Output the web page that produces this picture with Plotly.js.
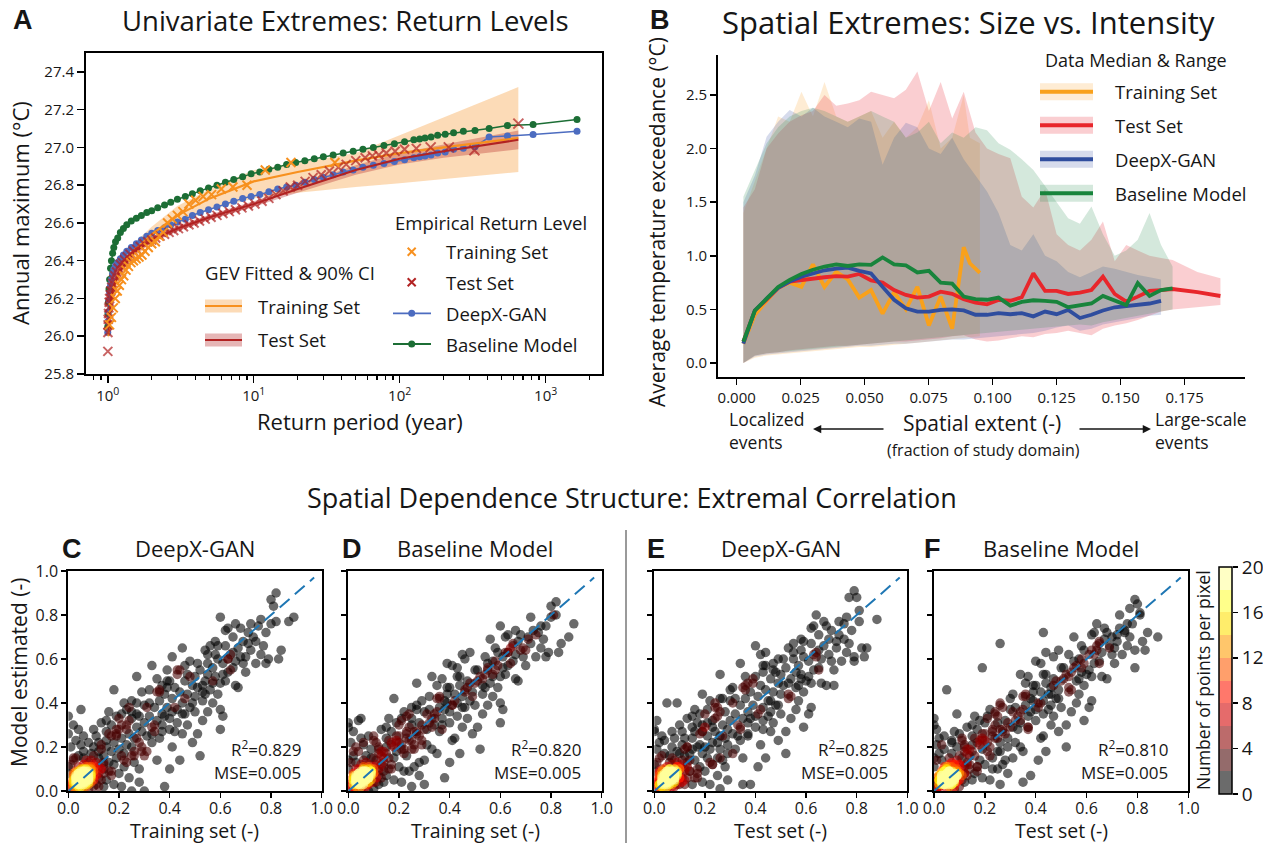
<!DOCTYPE html>
<html>
<head>
<meta charset="utf-8">
<script src="https://cdn.plot.ly/plotly-3.0.1.min.js"></script>
<style>
  html, body { margin: 0; padding: 0; background: #fff; overflow: hidden; width: 1263px; height: 849px; }
  #fig { width: 1263px; height: 849px; overflow: hidden; }
</style>
</head>
<body>
<div id="fig"></div>
<script>
// ---------------- Panel A: return levels ----------------
// GEV fits (return period in years, annual maximum in degC)
const gevT       = [1.01, 1.05, 1.1, 1.2, 1.5, 2, 3, 5, 10, 20, 50, 100, 200, 650];
const trainGev   = [26.00, 26.16, 26.25, 26.34, 26.45, 26.54, 26.64, 26.73, 26.82, 26.87, 26.93, 26.97, 27.00, 27.05];
const trainGevLo = [25.97, 26.12, 26.21, 26.30, 26.41, 26.50, 26.59, 26.67, 26.73, 26.76, 26.79, 26.81, 26.83, 26.87];
const trainGevHi = [26.03, 26.20, 26.29, 26.38, 26.49, 26.58, 26.69, 26.78, 26.88, 26.92, 26.97, 27.065, 27.16, 27.32];
const testGev    = [26.03, 26.20, 26.27, 26.34, 26.44, 26.51, 26.57, 26.63, 26.70, 26.78, 26.88, 26.94, 26.98, 27.04];
const testGevLo  = [26.01, 26.18, 26.25, 26.32, 26.425, 26.495, 26.555, 26.615, 26.685, 26.76, 26.855, 26.91, 26.945, 26.99];
const testGevHi  = [26.05, 26.22, 26.29, 26.36, 26.455, 26.525, 26.585, 26.645, 26.715, 26.80, 26.905, 26.97, 27.015, 27.09];

// empirical return levels, training set (35 years)
const trainEmpT = [1.029, 1.059, 1.091, 1.125, 1.161, 1.2, 1.241, 1.286, 1.333, 1.385, 1.44, 1.5, 1.565, 1.636, 1.714,
  1.8, 1.895, 2.0, 2.118, 2.25, 2.4, 2.571, 2.769, 3.0, 3.273, 3.6, 4.0, 4.5, 5.143, 6.0, 7.2, 9.0, 12.0, 18.0, 36.0];
const trainEmpV = [26.06, 26.10, 26.15, 26.20, 26.24, 26.27, 26.30, 26.32, 26.35, 26.37, 26.39, 26.40, 26.41, 26.42, 26.43,
  26.45, 26.47, 26.49, 26.50, 26.53, 26.55, 26.60, 26.62, 26.64, 26.66, 26.70, 26.72, 26.74, 26.75, 26.78, 26.79, 26.80, 26.88, 26.92, 26.92];

// empirical return levels, test set
const testEmpT = [1.0015, 1.003, 1.005, 1.008, 1.012, 1.017, 1.023, 1.03, 1.04, 1.05, 1.065, 1.08, 1.1, 1.12, 1.15, 1.18, 1.22, 1.26, 1.3, 1.36,
  1.42, 1.5, 1.58, 1.67, 1.77, 1.88, 2.0, 2.13, 2.28, 2.45, 2.63, 2.83, 3.05, 3.3, 3.6, 3.9, 4.25, 4.65, 5.1, 5.6,
  6.15, 6.8, 7.5, 8.3, 9.2, 10.2, 11.4, 12.7, 14.2, 15.9, 17.8, 20, 22.5, 25.5, 29, 33, 38, 43, 50, 58,
  65, 72, 81, 93, 108, 130, 163, 217, 325, 650];
const testEmpV = [25.92, 26.02, 26.06, 26.09, 26.12, 26.15, 26.18, 26.20, 26.22, 26.24, 26.26, 26.28, 26.30, 26.32, 26.34, 26.36, 26.38, 26.39, 26.405, 26.42,
  26.435, 26.45, 26.46, 26.475, 26.49, 26.50, 26.51, 26.52, 26.53, 26.54, 26.55, 26.56, 26.57, 26.58, 26.59, 26.60, 26.61, 26.62, 26.63, 26.64,
  26.65, 26.66, 26.67, 26.68, 26.69, 26.70, 26.715, 26.73, 26.75, 26.77, 26.79, 26.80, 26.82, 26.84, 26.855, 26.875, 26.895, 26.91, 26.93, 26.945,
  26.955, 26.96, 26.97, 26.98, 26.99, 26.995, 27.0, 27.0, 26.985, 27.126];

// empirical return levels of the generated samples
const modelT = [1.0, 1.005, 1.01, 1.02, 1.03, 1.045, 1.06, 1.08, 1.1, 1.13, 1.17, 1.22, 1.28, 1.35, 1.45, 1.57, 1.7, 1.85, 2.0, 2.2,
  2.45, 2.7, 3.0, 3.4, 3.8, 4.3, 4.9, 5.6, 6.4, 7.3, 8.4, 9.6, 11, 12.7, 14.6, 16.8, 19.4, 22.4, 26, 30,
  35, 41, 48, 56, 66, 78, 92, 108, 125, 137, 149, 164, 182, 205, 234, 273, 328, 410, 547, 820, 1640];
const deepxLevel = [26.02, 26.08, 26.13, 26.19, 26.23, 26.27, 26.30, 26.33, 26.355, 26.375, 26.39, 26.41, 26.43, 26.45, 26.47, 26.49, 26.51, 26.53, 26.545, 26.56,
  26.575, 26.59, 26.605, 26.62, 26.64, 26.655, 26.67, 26.685, 26.70, 26.715, 26.73, 26.74, 26.75, 26.765, 26.78, 26.79, 26.80, 26.815, 26.83, 26.84,
  26.855, 26.87, 26.88, 26.895, 26.905, 26.915, 26.925, 26.935, 26.945, 26.95, 26.955, 26.96, 26.97, 26.976, 26.99, 26.996, 27.003, 27.055, 27.06, 27.068, 27.086];
const baselineLevel = [26.05, 26.12, 26.18, 26.25, 26.30, 26.36, 26.40, 26.44, 26.47, 26.50, 26.52, 26.55, 26.57, 26.59, 26.61, 26.625, 26.64, 26.655, 26.665, 26.68,
  26.695, 26.71, 26.725, 26.74, 26.755, 26.77, 26.785, 26.80, 26.815, 26.83, 26.845, 26.86, 26.87, 26.885, 26.895, 26.91, 26.92, 26.93, 26.94, 26.95,
  26.96, 26.97, 26.98, 26.99, 27.0, 27.01, 27.02, 27.03, 27.04, 27.045, 27.05, 27.055, 27.065, 27.07, 27.077, 27.086, 27.09, 27.10, 27.116, 27.121, 27.148];

// ---------------- Panel B: size vs intensity ----------------
const extentGrid = [0.0026, 0.0071, 0.0117, 0.0162, 0.0207, 0.0253, 0.0298, 0.0343, 0.0389, 0.0434, 0.0479, 0.0525, 0.0570, 0.0615, 0.0661, 0.0706, 0.0751, 0.0797, 0.0842,
  0.0887, 0.0933, 0.0978, 0.1023, 0.1069, 0.1114, 0.1159, 0.1205, 0.1250, 0.1295, 0.1341, 0.1386, 0.1431, 0.1477, 0.1522, 0.1567, 0.1613, 0.1658, 0.1703];
const trainExtent = extentGrid.slice(0, 20).concat([0.0911, 0.0950]);
const trainMed = [0.18, 0.45, 0.58, 0.70, 0.75, 0.71, 0.92, 0.71, 0.85, 0.78, 0.61, 0.68, 0.46, 0.66, 0.50, 0.71, 0.35, 0.62, 0.32, 1.08, 0.93, 0.84];
const trainLo  = [0.00, 0.05, 0.07, 0.08, 0.09, 0.10, 0.11, 0.12, 0.13, 0.14, 0.15, 0.15, 0.16, 0.17, 0.18, 0.19, 0.20, 0.21, 0.22, 0.23, 0.24, 0.25];
const trainHi  = [1.40, 1.70, 2.00, 2.30, 2.25, 2.53, 2.30, 2.62, 2.30, 2.25, 2.30, 2.35, 2.10, 2.25, 2.10, 2.20, 2.45, 2.00, 2.10, 2.50, 2.10, 2.05];

const testExtent = extentGrid.concat([0.1800, 0.1890]);
const testMed = [0.20, 0.49, 0.59, 0.70, 0.76, 0.775, 0.79, 0.80, 0.81, 0.805, 0.83, 0.77, 0.75, 0.68, 0.635, 0.61, 0.62, 0.665, 0.645, 0.595,
  0.563, 0.547, 0.588, 0.581, 0.613, 0.836, 0.672, 0.672, 0.644, 0.656, 0.68, 0.805, 0.644, 0.572, 0.619, 0.672, 0.68, 0.69, 0.66, 0.625];
const testLo  = [0.00, 0.07, 0.09, 0.10, 0.12, 0.13, 0.14, 0.15, 0.16, 0.16, 0.17, 0.18, 0.19, 0.20, 0.20, 0.21, 0.22, 0.23, 0.25, 0.26,
  0.22, 0.20, 0.21, 0.23, 0.25, 0.24, 0.27, 0.28, 0.30, 0.28, 0.26, 0.32, 0.35, 0.37, 0.40, 0.44, 0.48, 0.50, 0.52, 0.54];
const testHi  = [1.45, 1.62, 2.00, 2.14, 2.25, 2.31, 2.35, 2.50, 2.40, 2.42, 2.45, 2.53, 2.50, 2.47, 2.55, 2.72, 2.35, 2.62, 2.28, 2.53,
  2.15, 2.00, 1.95, 1.91, 1.55, 1.45, 1.62, 1.20, 1.10, 1.05, 1.15, 1.32, 0.95, 1.10, 1.05, 1.00, 0.98, 0.96, 0.85, 0.79];

const deepxExtent = extentGrid.slice(0, 37);
const deepxMed = [0.18, 0.49, 0.60, 0.70, 0.76, 0.805, 0.835, 0.865, 0.88, 0.89, 0.86, 0.835, 0.71, 0.59, 0.51, 0.48, 0.48, 0.495, 0.50, 0.49,
  0.45, 0.45, 0.465, 0.455, 0.465, 0.435, 0.48, 0.455, 0.495, 0.42, 0.45, 0.49, 0.52, 0.53, 0.54, 0.555, 0.58];
const deepxLo  = [0.00, 0.06, 0.08, 0.09, 0.10, 0.11, 0.12, 0.13, 0.14, 0.15, 0.16, 0.16, 0.17, 0.18, 0.18, 0.19, 0.20, 0.21, 0.22, 0.22,
  0.23, 0.24, 0.25, 0.26, 0.27, 0.28, 0.30, 0.33, 0.35, 0.30, 0.32, 0.36, 0.38, 0.40, 0.42, 0.44, 0.45];
const deepxHi  = [1.50, 1.75, 2.11, 2.25, 2.36, 2.30, 2.38, 2.30, 2.25, 2.20, 2.28, 2.25, 1.85, 2.10, 2.24, 2.20, 2.00, 1.95, 2.10, 1.90,
  1.75, 1.60, 1.40, 1.10, 1.05, 1.20, 1.00, 0.95, 0.85, 0.80, 0.85, 0.90, 0.88, 0.85, 0.82, 0.80, 0.78];

const baseExtent = extentGrid;
const baseMed = [0.20, 0.49, 0.60, 0.71, 0.775, 0.83, 0.87, 0.90, 0.92, 0.905, 0.92, 0.915, 0.985, 0.92, 0.91, 0.845, 0.86, 0.75, 0.74, 0.62,
  0.595, 0.59, 0.61, 0.535, 0.57, 0.585, 0.58, 0.57, 0.52, 0.54, 0.555, 0.625, 0.58, 0.54, 0.745, 0.625, 0.68, 0.695];
const baseLo  = [0.00, 0.07, 0.09, 0.10, 0.11, 0.12, 0.13, 0.14, 0.15, 0.16, 0.17, 0.18, 0.19, 0.20, 0.21, 0.22, 0.23, 0.24, 0.25, 0.26,
  0.27, 0.28, 0.29, 0.30, 0.31, 0.32, 0.33, 0.34, 0.35, 0.36, 0.35, 0.38, 0.40, 0.42, 0.44, 0.46, 0.48, 0.50];
const baseHi  = [1.55, 1.80, 2.05, 2.20, 2.30, 2.35, 2.38, 2.35, 2.30, 2.25, 2.30, 2.35, 2.30, 2.25, 2.10, 2.15, 2.25, 2.05, 2.15, 2.10,
  2.20, 2.17, 2.05, 1.99, 1.90, 1.80, 1.65, 1.50, 1.35, 1.30, 1.46, 1.20, 1.00, 1.05, 1.15, 1.40, 1.10, 0.90];

// ---------------- Panels C-F: extremal correlation of pixel pairs ----------------
const trainCorr = [
  0.01,0.02,0.03,0.04,0.05,0.06,0.07,0.08,0.09,0.10,  0.02,0.03,0.04,0.05,0.06,0.07,0.08,0.09,0.10,0.11,
  0.01,0.02,0.03,0.04,0.05,0.06,0.07,0.08,0.09,0.11,  0.03,0.05,0.06,0.07,0.08,0.09,0.10,0.11,0.12,0.12,
  0.04,0.05,0.06,0.07,0.08,0.09,0.06,0.05,0.07,0.08,  0.00,0.00,0.01,0.02,0.03,0.04,0.06,0.07,0.10,0.12,
  0.13,0.13,0.14,0.11,0.10,0.02,0.05,0.08,0.12,0.14,  0.02,0.00,0.01,0.03,0.00,0.02,0.00,0.05,0.06,0.04,
  0.05,0.08,0.10,0.12,0.14,0.15,0.16,0.14,0.09,0.06,  0.14,0.15,0.16,0.17,0.18,0.19,0.20,0.21,0.22,0.23,
  0.24,0.25,0.26,0.27,0.28,0.29,0.30,0.15,0.17,0.13,  0.19,0.21,0.23,0.18,0.25,0.27,0.29,0.27,0.20,0.22,
  0.24,0.26,0.28,0.30,0.18,0.21,0.25,0.28,0.30,0.17,  0.20,0.24,0.26,0.29,0.16,0.22,0.19,0.23,0.25,0.27,
  0.31,0.32,0.33,0.34,0.35,0.36,0.37,0.38,0.39,0.40,  0.41,0.42,0.43,0.44,0.45,0.46,0.47,0.48,0.49,0.50,
  0.32,0.33,0.35,0.37,0.39,0.41,0.43,0.45,0.46,0.48,  0.31,0.33,0.35,0.36,0.38,0.40,0.41,0.42,0.44,0.45,
  0.47,0.49,0.34,0.37,0.40,0.43,0.46,0.50,0.36,0.39,  0.51,0.52,0.52,0.53,0.54,0.55,0.56,0.57,0.58,0.59,
  0.60,0.61,0.62,0.63,0.64,0.65,0.66,0.67,0.68,0.69,  0.70,0.53,0.55,0.57,0.60,0.61,0.60,0.58,0.56,0.60,
  0.62,0.64,0.66,0.67,0.51,0.54,0.59,0.63,0.66,0.71,  0.72,0.73,0.74,0.75,0.76,0.77,0.78,0.79,0.80,0.81,
  0.82,0.82,0.83,0.84,0.87,0.80,0.78,0.74,0.72,0.70,  0.76,0.89,0.65,0.68,0.69,0.71,0.63,0.55,0.53,0.57,
  0.02,0.03,0.04,0.05,0.06,0.07,0.08,0.09,0.03,0.04,  0.05,0.06,0.07,0.08,0.04,0.05,0.06,0.07,0.05,0.06,
  0.01,0.02,0.03,0.04,0.05,0.06,0.07,0.08,0.09,0.10,  0.02,0.03,0.04,0.05,0.06,0.07,0.08,0.03,0.04,0.05,
  0.06,0.07,0.05,0.06,0.04,0.08,0.09,0.10,0.02,0.07,  0.03,0.04,0.05,0.06,0.07,0.08,0.06,0.05,0.04,0.07,
  0.12,0.14,0.16,0.18,0.20,0.22,0.24,0.26,0.28,0.30,  0.13,0.15,0.17,0.19,0.21,0.23,0.25,0.27,0.29,0.31,
  0.33,0.35,0.37,0.39,0.41,0.43,0.45,0.47,0.49,0.51,  0.32,0.34,0.36,0.38,0.40,0.42,0.44,0.46,0.48,0.50,
  0.53,0.55,0.57,0.59,0.61,0.63,0.65,0.54,0.58,0.62,  0.11,0.13,0.15,0.17,0.19,0.21,0.23,0.25,0.10,0.12];
const deepxTrainCorr = [
  0.01,0.03,0.02,0.04,0.05,0.04,0.06,0.08,0.07,0.09,  0.05,0.06,0.07,0.08,0.07,0.09,0.10,0.11,0.12,0.10,
  0.04,0.07,0.09,0.11,0.10,0.12,0.11,0.13,0.14,0.13,  0.01,0.02,0.02,0.03,0.04,0.04,0.05,0.07,0.08,0.11,
  0.03,0.04,0.06,0.05,0.06,0.09,0.09,0.06,0.07,0.05,  0.02,0.08,0.12,0.14,0.15,0.16,0.15,0.14,0.16,0.15,
  0.10,0.05,0.08,0.03,0.02,0.00,0.00,0.01,0.02,0.13,  0.15,0.11,0.20,0.23,0.26,0.30,0.34,0.21,0.25,0.28,
  0.37,0.22,0.20,0.18,0.02,0.05,0.09,0.12,0.17,0.18,  0.16,0.20,0.13,0.18,0.22,0.15,0.19,0.24,0.17,0.21,
  0.26,0.20,0.24,0.29,0.22,0.27,0.31,0.27,0.30,0.31,  0.34,0.30,0.37,0.46,0.41,0.35,0.45,0.52,0.08,0.11,
  0.06,0.13,0.10,0.16,0.03,0.02,0.00,0.04,0.00,0.25,  0.28,0.32,0.18,0.20,0.36,0.40,0.26,0.28,0.33,0.24,
  0.25,0.34,0.29,0.38,0.32,0.41,0.35,0.44,0.38,0.33,  0.42,0.47,0.37,0.45,0.40,0.50,0.44,0.38,0.48,0.43,
  0.46,0.57,0.51,0.48,0.55,0.61,0.53,0.65,0.57,0.59,  0.18,0.22,0.14,0.24,0.02,0.10,0.20,0.27,0.14,0.26,
  0.30,0.22,0.27,0.30,0.28,0.31,0.35,0.52,0.45,0.50,  0.47,0.16,0.55,0.41,0.50,0.62,0.46,0.56,0.52,0.60,
  0.49,0.58,0.66,0.54,0.62,0.70,0.59,0.65,0.74,0.68,  0.61,0.32,0.36,0.40,0.28,0.34,0.37,0.68,0.66,0.79,
  0.73,0.55,0.48,0.47,0.26,0.64,0.44,0.74,0.76,0.72,  0.64,0.70,0.58,0.75,0.78,0.66,0.72,0.60,0.87,0.84,
  0.90,0.77,0.60,0.64,0.77,0.76,0.58,0.68,0.76,0.54,  0.62,0.79,0.63,0.61,0.58,0.67,0.60,0.53,0.48,0.50,
  0.02,0.04,0.05,0.06,0.05,0.07,0.09,0.08,0.03,0.06,  0.07,0.08,0.05,0.07,0.04,0.05,0.06,0.08,0.09,0.03,
  0.03,0.04,0.06,0.08,0.03,0.10,0.04,0.06,0.10,0.07,  0.06,0.05,0.09,0.04,0.06,0.10,0.05,0.08,0.05,0.07,
  0.04,0.06,0.05,0.07,0.02,0.03,0.06,0.11,0.08,0.02,  0.07,0.03,0.10,0.09,0.08,0.11,0.05,0.04,0.08,0.05,
  0.22,0.10,0.26,0.12,0.33,0.14,0.38,0.16,0.34,0.39,  0.19,0.23,0.09,0.28,0.16,0.30,0.16,0.40,0.18,0.38,
  0.26,0.45,0.27,0.47,0.36,0.55,0.35,0.53,0.40,0.58,  0.40,0.30,0.46,0.34,0.50,0.38,0.55,0.42,0.52,0.36,
  0.45,0.58,0.49,0.66,0.53,0.60,0.56,0.44,0.62,0.50,  0.25,0.21,0.32,0.07,0.25,0.35,0.13,0.36,0.28,0.06];
const baseTrainCorr = [
  0.02,0.02,0.04,0.03,0.06,0.05,0.05,0.07,0.09,0.08,  0.06,0.05,0.08,0.07,0.09,0.08,0.11,0.10,0.11,0.12,
  0.05,0.08,0.10,0.10,0.12,0.11,0.13,0.12,0.15,0.14,  0.02,0.01,0.03,0.02,0.03,0.05,0.04,0.06,0.07,0.10,
  0.04,0.03,0.05,0.06,0.07,0.08,0.10,0.07,0.08,0.06,  0.03,0.10,0.13,0.16,0.13,0.18,0.14,0.16,0.15,0.17,
  0.12,0.06,0.09,0.04,0.01,0.01,0.02,0.00,0.03,0.15,  0.18,0.14,0.22,0.20,0.29,0.27,0.31,0.24,0.22,0.32,
  0.33,0.25,0.23,0.20,0.04,0.07,0.10,0.11,0.19,0.21,  0.18,0.17,0.15,0.21,0.20,0.18,0.22,0.21,0.19,0.24,
  0.23,0.23,0.27,0.26,0.25,0.30,0.28,0.24,0.27,0.28,  0.31,0.33,0.34,0.42,0.38,0.39,0.41,0.49,0.11,0.09,
  0.09,0.11,0.13,0.14,0.05,0.04,0.02,0.07,0.03,0.22,  0.25,0.29,0.21,0.23,0.33,0.36,0.23,0.26,0.30,0.27,
  0.28,0.31,0.33,0.35,0.36,0.38,0.33,0.41,0.40,0.36,  0.39,0.44,0.40,0.48,0.43,0.46,0.47,0.41,0.45,0.49,
  0.43,0.52,0.48,0.51,0.58,0.57,0.56,0.62,0.60,0.63,  0.21,0.19,0.17,0.27,0.06,0.13,0.23,0.24,0.17,0.29,
  0.33,0.26,0.30,0.28,0.31,0.34,0.38,0.55,0.42,0.47,  0.50,0.19,0.52,0.44,0.53,0.58,0.49,0.59,0.55,0.57,
  0.52,0.61,0.63,0.57,0.65,0.67,0.62,0.68,0.71,0.65,  0.64,0.35,0.39,0.43,0.31,0.37,0.40,0.65,0.69,0.75,
  0.70,0.58,0.51,0.50,0.29,0.61,0.47,0.71,0.73,0.69,  0.67,0.73,0.61,0.72,0.75,0.69,0.75,0.63,0.84,0.80,
  0.86,0.80,0.63,0.67,0.70,0.79,0.61,0.71,0.79,0.57,  0.65,0.76,0.66,0.64,0.61,0.70,0.63,0.56,0.51,0.53,
  0.03,0.03,0.06,0.05,0.06,0.06,0.08,0.09,0.04,0.05,  0.06,0.09,0.06,0.06,0.05,0.04,0.07,0.07,0.08,0.04,
  0.02,0.05,0.05,0.07,0.04,0.09,0.05,0.07,0.09,0.08,  0.05,0.06,0.08,0.05,0.07,0.09,0.06,0.07,0.06,0.06,
  0.05,0.07,0.04,0.08,0.03,0.04,0.07,0.10,0.07,0.03,  0.06,0.04,0.09,0.08,0.09,0.10,0.06,0.05,0.07,0.06,
  0.19,0.13,0.23,0.15,0.30,0.17,0.35,0.19,0.31,0.36,  0.16,0.20,0.12,0.25,0.19,0.27,0.19,0.37,0.21,0.35,
  0.29,0.42,0.30,0.44,0.39,0.52,0.38,0.50,0.43,0.55,  0.37,0.33,0.43,0.37,0.47,0.41,0.52,0.45,0.49,0.39,
  0.48,0.55,0.52,0.63,0.56,0.63,0.59,0.47,0.59,0.53,  0.22,0.18,0.29,0.10,0.22,0.32,0.16,0.33,0.25,0.09];

const testCorr = [
  0.01,0.02,0.03,0.04,0.05,0.06,0.07,0.08,0.09,0.10,  0.02,0.03,0.04,0.05,0.06,0.07,0.08,0.09,0.10,0.11,
  0.01,0.02,0.03,0.04,0.05,0.06,0.07,0.08,0.09,0.11,  0.03,0.05,0.06,0.07,0.08,0.09,0.10,0.11,0.12,0.12,
  0.04,0.05,0.06,0.07,0.08,0.09,0.06,0.05,0.07,0.08,  0.00,0.00,0.01,0.02,0.03,0.04,0.06,0.07,0.10,0.12,
  0.13,0.13,0.14,0.11,0.10,0.02,0.05,0.08,0.12,0.14,  0.01,0.00,0.02,0.03,0.00,0.01,0.00,0.04,0.07,0.05,
  0.09,0.08,0.11,0.12,0.15,0.16,0.17,0.13,0.09,0.07,  0.14,0.15,0.16,0.17,0.18,0.19,0.20,0.21,0.22,0.23,
  0.24,0.25,0.26,0.27,0.28,0.29,0.30,0.15,0.17,0.13,  0.18,0.21,0.24,0.19,0.26,0.26,0.30,0.26,0.20,0.23,
  0.25,0.27,0.28,0.31,0.19,0.22,0.26,0.29,0.35,0.18,  0.20,0.24,0.26,0.29,0.16,0.22,0.19,0.23,0.25,0.27,
  0.31,0.32,0.33,0.34,0.35,0.36,0.37,0.38,0.39,0.40,  0.41,0.42,0.43,0.44,0.45,0.46,0.47,0.48,0.49,0.50,
  0.31,0.34,0.36,0.37,0.40,0.42,0.43,0.44,0.47,0.49,  0.32,0.34,0.35,0.37,0.38,0.41,0.42,0.43,0.44,0.46,
  0.47,0.49,0.34,0.37,0.40,0.43,0.46,0.50,0.36,0.39,  0.51,0.52,0.52,0.53,0.54,0.55,0.56,0.57,0.58,0.59,
  0.60,0.61,0.62,0.63,0.64,0.65,0.66,0.67,0.68,0.69,  0.71,0.54,0.56,0.57,0.59,0.61,0.62,0.58,0.55,0.64,
  0.62,0.65,0.66,0.68,0.52,0.53,0.59,0.63,0.67,0.70,  0.72,0.73,0.74,0.75,0.76,0.77,0.78,0.79,0.80,0.81,
  0.79,0.77,0.83,0.82,0.88,0.81,0.79,0.75,0.73,0.71,  0.76,0.84,0.65,0.69,0.70,0.72,0.64,0.56,0.53,0.58,
  0.02,0.03,0.04,0.05,0.06,0.07,0.08,0.09,0.03,0.04,  0.05,0.06,0.07,0.08,0.04,0.05,0.06,0.07,0.05,0.06,
  0.01,0.02,0.03,0.04,0.05,0.06,0.07,0.08,0.09,0.10,  0.02,0.03,0.04,0.05,0.06,0.07,0.08,0.03,0.04,0.05,
  0.06,0.07,0.05,0.06,0.04,0.08,0.09,0.10,0.02,0.07,  0.03,0.04,0.05,0.06,0.07,0.08,0.06,0.05,0.04,0.07,
  0.12,0.14,0.16,0.18,0.20,0.22,0.24,0.26,0.28,0.30,  0.13,0.15,0.17,0.19,0.21,0.23,0.25,0.27,0.29,0.31,
  0.33,0.35,0.37,0.39,0.41,0.43,0.45,0.47,0.49,0.51,  0.32,0.34,0.36,0.38,0.40,0.42,0.44,0.46,0.48,0.50,
  0.53,0.55,0.57,0.59,0.61,0.63,0.65,0.54,0.58,0.62,  0.11,0.13,0.15,0.17,0.19,0.21,0.23,0.25,0.10,0.12];
const deepxTestCorr = [
  0.02,0.02,0.03,0.05,0.04,0.06,0.07,0.07,0.08,0.10,  0.06,0.05,0.07,0.09,0.08,0.08,0.09,0.11,0.11,0.12,
  0.05,0.08,0.10,0.10,0.11,0.13,0.12,0.14,0.13,0.14,  0.02,0.02,0.03,0.02,0.05,0.03,0.06,0.06,0.09,0.10,
  0.04,0.05,0.05,0.06,0.07,0.08,0.10,0.07,0.06,0.06,  0.03,0.09,0.13,0.15,0.16,0.17,0.16,0.15,0.17,0.16,
  0.11,0.06,0.09,0.04,0.03,0.01,0.01,0.02,0.03,0.14,  0.19,0.12,0.22,0.25,0.28,0.32,0.27,0.23,0.27,0.40,
  0.40,0.24,0.21,0.19,0.03,0.06,0.10,0.13,0.18,0.20,  0.17,0.19,0.14,0.20,0.21,0.17,0.20,0.25,0.19,0.22,
  0.27,0.22,0.25,0.30,0.24,0.28,0.32,0.29,0.31,0.33,  0.35,0.31,0.38,0.44,0.42,0.36,0.46,0.53,0.09,0.12,
  0.07,0.14,0.11,0.17,0.04,0.03,0.01,0.05,0.03,0.26,  0.29,0.33,0.19,0.21,0.37,0.41,0.27,0.29,0.34,0.25,
  0.26,0.35,0.30,0.39,0.33,0.42,0.36,0.45,0.39,0.34,  0.43,0.48,0.38,0.46,0.41,0.51,0.45,0.39,0.49,0.44,
  0.47,0.58,0.52,0.49,0.66,0.62,0.54,0.63,0.58,0.60,  0.19,0.23,0.15,0.25,0.03,0.11,0.21,0.28,0.15,0.27,
  0.31,0.23,0.28,0.31,0.29,0.32,0.36,0.53,0.46,0.51,  0.48,0.17,0.56,0.42,0.51,0.63,0.47,0.57,0.53,0.61,
  0.50,0.59,0.67,0.55,0.63,0.71,0.60,0.66,0.75,0.69,  0.48,0.33,0.37,0.41,0.29,0.35,0.38,0.69,0.67,0.80,
  0.74,0.56,0.49,0.48,0.27,0.65,0.45,0.75,0.77,0.73,  0.65,0.71,0.59,0.76,0.79,0.67,0.73,0.61,0.88,0.82,
  0.91,0.88,0.61,0.65,0.78,0.77,0.59,0.69,0.77,0.55,  0.63,0.65,0.64,0.62,0.59,0.68,0.61,0.54,0.49,0.51,
  0.03,0.04,0.04,0.07,0.06,0.06,0.08,0.09,0.02,0.05,  0.08,0.07,0.06,0.08,0.05,0.04,0.05,0.09,0.08,0.04,
  0.04,0.03,0.07,0.07,0.04,0.09,0.05,0.07,0.11,0.06,  0.07,0.04,0.08,0.05,0.07,0.09,0.06,0.09,0.04,0.08,
  0.05,0.05,0.06,0.08,0.03,0.04,0.07,0.10,0.09,0.03,  0.06,0.04,0.09,0.10,0.07,0.10,0.06,0.03,0.07,0.06,
  0.24,0.09,0.27,0.11,0.35,0.13,0.40,0.15,0.36,0.41,  0.20,0.24,0.08,0.30,0.15,0.32,0.15,0.42,0.17,0.40,
  0.25,0.47,0.26,0.49,0.35,0.57,0.34,0.55,0.39,0.60,  0.42,0.29,0.48,0.33,0.52,0.37,0.57,0.41,0.54,0.35,
  0.44,0.60,0.48,0.68,0.52,0.62,0.55,0.43,0.64,0.49,  0.27,0.20,0.34,0.06,0.27,0.37,0.12,0.38,0.30,0.05];
const baseTestCorr = [
  0.01,0.03,0.04,0.03,0.06,0.05,0.06,0.08,0.08,0.09,  0.05,0.07,0.06,0.08,0.09,0.07,0.10,0.10,0.12,0.11,
  0.06,0.07,0.09,0.11,0.10,0.12,0.13,0.12,0.14,0.15,  0.03,0.01,0.02,0.03,0.04,0.04,0.05,0.07,0.08,0.11,
  0.05,0.04,0.06,0.05,0.06,0.07,0.09,0.06,0.07,0.05,  0.04,0.11,0.14,0.17,0.14,0.19,0.15,0.17,0.16,0.18,
  0.13,0.07,0.10,0.05,0.02,0.02,0.03,0.01,0.04,0.16,  0.21,0.15,0.24,0.21,0.30,0.28,0.33,0.25,0.23,0.46,
  0.35,0.27,0.24,0.21,0.05,0.08,0.11,0.12,0.20,0.22,  0.19,0.18,0.16,0.22,0.21,0.19,0.23,0.22,0.20,0.25,
  0.24,0.24,0.28,0.27,0.26,0.31,0.29,0.25,0.28,0.29,  0.32,0.34,0.35,0.56,0.39,0.40,0.42,0.67,0.12,0.10,
  0.10,0.12,0.14,0.15,0.06,0.05,0.03,0.08,0.04,0.23,  0.26,0.30,0.22,0.24,0.34,0.37,0.24,0.27,0.31,0.28,
  0.29,0.32,0.34,0.36,0.37,0.39,0.34,0.42,0.41,0.37,  0.40,0.45,0.41,0.49,0.44,0.47,0.48,0.42,0.46,0.50,
  0.44,0.53,0.49,0.52,0.59,0.58,0.72,0.63,0.61,0.64,  0.22,0.20,0.18,0.28,0.07,0.14,0.24,0.25,0.18,0.30,
  0.34,0.27,0.31,0.29,0.32,0.35,0.39,0.56,0.43,0.48,  0.51,0.20,0.53,0.45,0.54,0.59,0.50,0.60,0.56,0.58,
  0.53,0.62,0.64,0.58,0.66,0.68,0.63,0.69,0.72,0.66,  0.65,0.36,0.40,0.44,0.32,0.38,0.41,0.66,0.70,0.76,
  0.71,0.59,0.52,0.51,0.30,0.62,0.48,0.72,0.74,0.70,  0.68,0.74,0.62,0.73,0.76,0.70,0.76,0.64,0.85,0.81,
  0.87,0.83,0.64,0.68,0.70,0.80,0.56,0.72,0.80,0.58,  0.66,0.72,0.67,0.65,0.62,0.71,0.64,0.57,0.52,0.54,
  0.02,0.05,0.06,0.05,0.04,0.08,0.08,0.07,0.04,0.07,  0.06,0.09,0.06,0.07,0.03,0.06,0.07,0.07,0.10,0.04,
  0.02,0.05,0.05,0.09,0.04,0.11,0.05,0.05,0.09,0.08,  0.05,0.06,0.10,0.05,0.05,0.11,0.06,0.07,0.06,0.08,
  0.03,0.07,0.04,0.06,0.03,0.02,0.07,0.12,0.07,0.03,  0.08,0.04,0.11,0.08,0.09,0.12,0.04,0.05,0.09,0.04,
  0.20,0.12,0.24,0.14,0.31,0.16,0.36,0.18,0.32,0.37,  0.17,0.21,0.11,0.26,0.18,0.28,0.18,0.38,0.20,0.36,
  0.28,0.43,0.29,0.45,0.38,0.53,0.37,0.51,0.42,0.56,  0.38,0.32,0.44,0.36,0.48,0.40,0.53,0.44,0.50,0.38,
  0.47,0.56,0.51,0.64,0.55,0.62,0.58,0.46,0.60,0.52,  0.23,0.19,0.30,0.09,0.23,0.33,0.15,0.34,0.26,0.08];

const fitScores = [
  {r2: '0.829', mse: '0.005'},
  {r2: '0.820', mse: '0.005'},
  {r2: '0.825', mse: '0.005'},
  {r2: '0.810', mse: '0.005'}];
const identityLine = [0, 0.97];
const densityTicks = [0, 4, 8, 12, 16, 20];
const densityBins = [1, 3, 5, 7, 9, 11, 13, 15, 17, 19];

// ---------------- drawing ----------------
const FONT = '"Open Sans", "DejaVu Sans", sans-serif';
const INK = '#161616';
const W = 1263, H = 849;
const px = v => v / W;
const py = v => 1 - v / H;
const hdom = (a, b) => [a / W, b / W];
const vdom = (top, bottom) => [1 - bottom / H, 1 - top / H];

const ORANGE = '#f7901e', RED_X = '#b22222', BLUE_M = '#4c6cc0', GREEN_M = '#1c6e35';
const TRAIN_BAND = 'rgba(247,144,30,0.32)', TEST_BAND = 'rgba(178,34,34,0.33)';
const B_COLORS = {
  train: {line: '#f9a11b', band: 'rgba(250,170,60,0.22)'},
  test:  {line: '#e8262b', band: 'rgba(235,60,70,0.25)'},
  deepx: {line: '#2f4d9e', band: 'rgba(70,90,170,0.22)'},
  base:  {line: '#18843c', band: 'rgba(40,140,80,0.20)'}};

const traces = [];
const band = (xs, lo, hi, color, xa, ya) => ({
  type: 'scatter', mode: 'lines', x: xs.concat(xs.slice().reverse()), y: hi.concat(lo.slice().reverse()),
  fill: 'toself', fillcolor: color, line: {width: 0}, xaxis: xa, yaxis: ya, hoverinfo: 'skip'});

// Panel A
traces.push(band(gevT, trainGevLo, trainGevHi, TRAIN_BAND, 'x', 'y'));
traces.push(band(gevT, testGevLo, testGevHi, TEST_BAND, 'x', 'y'));
traces.push({type: 'scatter', mode: 'lines+markers', x: modelT, y: baselineLevel, xaxis: 'x', yaxis: 'y',
  line: {color: GREEN_M, width: 1.5}, marker: {color: GREEN_M, size: 7}});
traces.push({type: 'scatter', mode: 'lines+markers', x: modelT, y: deepxLevel, xaxis: 'x', yaxis: 'y',
  line: {color: BLUE_M, width: 1.5}, marker: {color: BLUE_M, size: 7}});
traces.push({type: 'scatter', mode: 'lines', x: gevT, y: trainGev, xaxis: 'x', yaxis: 'y', line: {color: ORANGE, width: 2.2}});
traces.push({type: 'scatter', mode: 'lines', x: gevT, y: testGev, xaxis: 'x', yaxis: 'y', line: {color: RED_X, width: 2}});
traces.push({type: 'scatter', mode: 'markers', x: testEmpT, y: testEmpV, xaxis: 'x', yaxis: 'y',
  marker: {symbol: 'x-thin', size: testEmpT.map(t => t > 150 ? 10 : 9), color: RED_X, line: {color: RED_X, width: 2}}});
traces.push({type: 'scatter', mode: 'markers', x: trainEmpT, y: trainEmpV, xaxis: 'x', yaxis: 'y',
  marker: {symbol: 'x-thin', size: 9, color: ORANGE, line: {color: ORANGE, width: 2}}});

// Panel B
const bSeries = [
  {x: trainExtent, med: trainMed, lo: trainLo, hi: trainHi, c: B_COLORS.train},
  {x: testExtent, med: testMed, lo: testLo, hi: testHi, c: B_COLORS.test},
  {x: deepxExtent, med: deepxMed, lo: deepxLo, hi: deepxHi, c: B_COLORS.deepx},
  {x: baseExtent, med: baseMed, lo: baseLo, hi: baseHi, c: B_COLORS.base}];
bSeries.forEach(s => traces.push(band(s.x, s.lo, s.hi, s.c.band, 'x2', 'y2')));
bSeries.forEach(s => traces.push({type: 'scatter', mode: 'lines', x: s.x, y: s.med, xaxis: 'x2', yaxis: 'y2',
  line: {color: s.c.line, width: 3.8}}));

// Panels C-F: points coloured by the number of neighbours around each point
const hotSteps = ['0,0,0', '70,0,0', '140,0,0', '210,0,0', '255,23,0', '255,90,0', '255,157,0', '255,224,0', '255,255,54', '255,255,155'];
const densityScale = [];
hotSteps.forEach((c, i) => {
  densityScale.push([i / 10, `rgba(${c},0.58)`]);
  densityScale.push([(i + 1) / 10, `rgba(${c},0.58)`]);
});
function neighbourCounts(xs, ys, sx, sy, r) {
  return xs.map((x, i) => {
    let n = 0;
    for (let j = 0; j < xs.length; j++) {
      if (i === j) continue;
      const dx = (x - xs[j]) * sx, dy = (ys[i] - ys[j]) * sy;
      if (dx * dx + dy * dy < r * r) n++;
    }
    return Math.min(n, 20);
  });
}
function densityScatter(xs, ys, xa, ya) {
  const counts = neighbourCounts(xs, ys, 253, 220, 5.5);
  const order = counts.map((c, i) => i).sort((a, b) => counts[a] - counts[b]);
  return {type: 'scatter', mode: 'markers', xaxis: xa, yaxis: ya,
    x: order.map(i => xs[i]), y: order.map(i => ys[i]),
    marker: {size: 9.5, color: order.map(i => counts[i]), colorscale: densityScale, cmin: 0, cmax: 20,
      line: {width: 0}, showscale: false}};
}
const panels = [
  {xs: trainCorr, ys: deepxTrainCorr, xa: 'x3', ya: 'y3'},
  {xs: trainCorr, ys: baseTrainCorr, xa: 'x4', ya: 'y4'},
  {xs: testCorr, ys: deepxTestCorr, xa: 'x5', ya: 'y5'},
  {xs: testCorr, ys: baseTestCorr, xa: 'x6', ya: 'y6'}];
panels.forEach(p => {
  traces.push(densityScatter(p.xs, p.ys, p.xa, p.ya));
  traces.push({type: 'scatter', mode: 'lines', x: identityLine, y: identityLine, xaxis: p.xa, yaxis: p.ya,
    line: {color: '#1f77b4', width: 2, dash: '13px,7px'}});
});

// colour bar for the point density, drawn as a one-column heatmap on its own axis
traces.push({type: 'heatmap', xaxis: 'x8', yaxis: 'y8', x: [0.5], y: densityBins, z: densityBins.map(v => [v]),
  colorscale: densityScale, zmin: 0, zmax: 20, showscale: false, hoverinfo: 'skip'});

// legend markers on a full-page pixel grid
const legendMarks = [
  {y: 251.7, sym: 'x-thin', c: ORANGE},
  {y: 282.3, sym: 'x-thin', c: RED_X},
  {y: 313.3, sym: 'circle', c: BLUE_M},
  {y: 344.0, sym: 'circle', c: GREEN_M}];
legendMarks.forEach(m => traces.push({type: 'scatter', mode: 'markers', x: [411.7], y: [m.y], xaxis: 'x7', yaxis: 'y7',
  cliponaxis: false, marker: {symbol: m.sym, size: m.sym === 'circle' ? 7 : 8, color: m.c, line: {color: m.c, width: m.sym === 'circle' ? 0 : 2}}}));

// ---------------- layout ----------------
const tickFont = s => ({family: FONT, size: s, color: INK});
const axBase = {showgrid: false, zeroline: false, showline: true, linecolor: '#000', linewidth: 2,
  ticks: 'outside', ticklen: 6, tickwidth: 1.5, tickcolor: '#000', fixedrange: true};

const layout = {
  width: W, height: H, autosize: false, margin: {l: 0, r: 0, t: 0, b: 0, pad: 0},
  paper_bgcolor: '#fff', plot_bgcolor: 'rgba(0,0,0,0)', showlegend: false, font: {family: FONT, color: INK},
  xaxis: Object.assign({}, axBase, {domain: hdom(86, 602), anchor: 'y', type: 'log', range: [-0.149, 3.386], mirror: true,
    tickmode: 'array', tickvals: [1, 10, 100, 1000], ticktext: ['10<sup>0</sup>', '10<sup>1</sup>', '10<sup>2</sup>', '10<sup>3</sup>'],
    tickfont: tickFont(15), ticklen: 7,
    minor: {tickmode: 'array', tickvals: [0.8, 0.9, 2, 3, 4, 5, 6, 7, 8, 9, 20, 30, 40, 50, 60, 70, 80, 90, 200, 300, 400, 500, 600, 700, 800, 900, 2000],
      ticks: 'outside', ticklen: 4, tickwidth: 1.2, tickcolor: '#000', showgrid: false}}),
  yaxis: Object.assign({}, axBase, {domain: vdom(53, 374), anchor: 'x', range: [25.8, 27.5], mirror: true,
    tickmode: 'array', tickvals: [25.8, 26.0, 26.2, 26.4, 26.6, 26.8, 27.0, 27.2, 27.4], tickformat: '.1f', tickfont: tickFont(15), ticklen: 7}),
  xaxis2: Object.assign({}, axBase, {domain: hdom(718, 1245), anchor: 'y2', range: [-0.0073, 0.1986],
    tickmode: 'array', tickvals: [0, 0.025, 0.05, 0.075, 0.1, 0.125, 0.15, 0.175], tickformat: '.3f', tickfont: tickFont(15)}),
  yaxis2: Object.assign({}, axBase, {domain: vdom(55, 377), anchor: 'x2', range: [-0.1306, 2.873],
    tickmode: 'array', tickvals: [0, 0.5, 1, 1.5, 2, 2.5], tickformat: '.1f', tickfont: tickFont(15)}),
  xaxis7: {domain: [0, 1], anchor: 'y7', range: [0, W], visible: false, fixedrange: true},
  yaxis7: {domain: [0, 1], anchor: 'x7', range: [H, 0], visible: false, fixedrange: true},
  xaxis8: {domain: hdom(1219, 1232), anchor: 'y8', range: [0, 1], visible: false, fixedrange: true},
  yaxis8: {domain: vdom(567, 794), anchor: 'x8', range: [0, 20], side: 'right', showgrid: false, zeroline: false,
    showline: false, ticks: 'outside', ticklen: 5, tickwidth: 1.5, tickcolor: '#000', fixedrange: true,
    tickmode: 'array', tickvals: densityTicks, tickfont: tickFont(19)},
};
const bottomX = [[68.3, 321.7], [348.3, 601.7], [654.3, 907.3], [934, 1188.3]];
bottomX.forEach((b, k) => {
  const n = k + 3;
  layout['xaxis' + n] = Object.assign({}, axBase, {domain: hdom(b[0], b[1]), anchor: 'y' + n, range: [0, 1], mirror: true,
    tickmode: 'array', tickvals: [0, 0.2, 0.4, 0.6, 0.8, 1], tickformat: '.1f', tickfont: tickFont(16), ticklen: 5,
    ticklabelstandoff: -3});
  layout['yaxis' + n] = Object.assign({}, axBase, {domain: vdom(571, 791), anchor: 'x' + n, range: [0, 1], mirror: true,
    tickmode: 'array', tickvals: [0, 0.2, 0.4, 0.6, 0.8, 1], tickformat: '.1f', tickfont: tickFont(16), ticklen: 5,
    showticklabels: k === 0});
});

// text
const note = (x, y, text, size, extra) => Object.assign({xref: 'paper', yref: 'paper', x: px(x), y: py(y), text: text,
  showarrow: false, font: {family: FONT, size: size, color: INK}, xanchor: 'center', yanchor: 'middle'}, extra || {});
const letter = (x, y, t) => note(x, y, '<b>' + t + '</b>', 27, {font: {family: '"Liberation Sans", Arial, sans-serif', size: 27, color: INK}});
const ann = [
  letter(23, 20, 'A'), note(345, 21, 'Univariate Extremes: Return Levels', 27.5),
  letter(660, 20, 'B'), note(968, 22, 'Spatial Extremes: Size vs. Intensity', 31),
  note(20, 213, 'Annual maximum (°C)', 22, {textangle: -90}),
  note(360, 421, 'Return period (year)', 22),
  note(657, 222, 'Average temperature exceedance (°C)', 21, {textangle: -90}),
  note(982, 423, 'Spatial extent (-)', 21),
  note(983, 450, '(fraction of study domain)', 16),
  note(727, 430, 'Localized<br>events', 17.5, {xanchor: 'left', align: 'left'}),
  note(1153, 430, 'Large-scale<br>events', 17.5, {xanchor: 'left', align: 'left'}),
  {xref: 'paper', yref: 'paper', x: px(813), y: py(429), ax: 72, ay: 0, text: '', showarrow: true,
    arrowhead: 2, arrowsize: 1.1, arrowwidth: 1.5, arrowcolor: INK},
  {xref: 'paper', yref: 'paper', x: px(1151), y: py(429), ax: -73, ay: 0, text: '', showarrow: true,
    arrowhead: 2, arrowsize: 1.1, arrowwidth: 1.5, arrowcolor: INK},
  // legend texts, panel A
  note(203, 272, 'GEV Fitted & 90% CI', 18.5, {xanchor: 'left'}),
  note(256, 306, 'Training Set', 18.5, {xanchor: 'left'}),
  note(256, 340, 'Test Set', 18.5, {xanchor: 'left'}),
  note(393, 222, 'Empirical Return Level', 18.5, {xanchor: 'left'}),
  note(444, 251.7, 'Training Set', 18.5, {xanchor: 'left'}),
  note(444, 282.3, 'Test Set', 18.5, {xanchor: 'left'}),
  note(444, 313.3, 'DeepX-GAN', 18.5, {xanchor: 'left'}),
  note(444, 344, 'Baseline Model', 18.5, {xanchor: 'left'}),
  // legend texts, panel B
  note(1043, 60, 'Data Median & Range', 18, {xanchor: 'left'}),
  note(1113, 91.7, 'Training Set', 18.5, {xanchor: 'left'}),
  note(1113, 125.3, 'Test Set', 18.5, {xanchor: 'left'}),
  note(1113, 159.3, 'DeepX-GAN', 18.5, {xanchor: 'left'}),
  note(1113, 193.3, 'Baseline Model', 18.5, {xanchor: 'left'}),
  // lower row
  note(632, 497, 'Spatial Dependence Structure: Extremal Correlation', 27),
  note(19, 673, 'Model estimated (-)', 21, {textangle: -90}),
  note(1203, 680, 'Number of points per pixel', 17.5, {textangle: -90}),
];
const subTitles = ['DeepX-GAN', 'Baseline Model', 'DeepX-GAN', 'Baseline Model'];
const subLetters = ['C', 'D', 'E', 'F'];
const letterX = [72, 352, 656, 932];
const xTitles = ['Training set (-)', 'Training set (-)', 'Test set (-)', 'Test set (-)'];
const scoreRight = [303, 583, 890, 1170];
bottomX.forEach((b, k) => {
  const mid = (b[0] + b[1]) / 2;
  ann.push(letter(letterX[k], 549, subLetters[k]));
  ann.push(note(mid, 548, subTitles[k], 22));
  ann.push(note(mid, 830, xTitles[k], 19.5));
  ann.push(note(scoreRight[k], 748, 'R<sup>2</sup>=' + fitScores[k].r2, 17, {xanchor: 'right'}));
  ann.push(note(scoreRight[k], 772, 'MSE=' + fitScores[k].mse, 17, {xanchor: 'right'}));
});
layout.annotations = ann;

// legend swatches, colour-bar outline and separator
const shp = [];
const rectPx = (x0, x1, cy, h, fill) => ({type: 'rect', xref: 'paper', yref: 'paper', x0: px(x0), x1: px(x1),
  y0: py(cy + h / 2), y1: py(cy - h / 2), fillcolor: fill, line: {width: 0}, layer: 'above'});
const linePx = (x0, x1, y, color, w) => ({type: 'line', xref: 'paper', yref: 'paper', x0: px(x0), x1: px(x1),
  y0: py(y), y1: py(y), line: {color: color, width: w}, layer: 'above'});
shp.push(rectPx(205, 242, 306, 13, TRAIN_BAND), linePx(205, 242, 306, ORANGE, 2));
shp.push(rectPx(205, 242, 340, 13, TEST_BAND), linePx(205, 242, 340, RED_X, 2));
shp.push(linePx(393, 431, 313.3, BLUE_M, 1.8), linePx(393, 431, 344, GREEN_M, 1.8));
[['train', 91.7], ['test', 125.3], ['deepx', 159.3], ['base', 193.3]].forEach(([key, cy]) => {
  shp.push(rectPx(1040, 1093, cy, 17, B_COLORS[key].band), linePx(1040, 1093, cy, B_COLORS[key].line, 4));
});
shp.push({type: 'rect', xref: 'x8 domain', yref: 'y8 domain', x0: 0, x1: 1, y0: 0, y1: 1,
  line: {color: '#000', width: 1.5}, fillcolor: 'rgba(0,0,0,0)', layer: 'above'});
shp.push({type: 'line', xref: 'paper', yref: 'paper', x0: px(626), x1: px(626), y0: py(530), y1: py(843),
  line: {color: '#9a9a9a', width: 2}});
layout.shapes = shp;

Plotly.newPlot('fig', traces, layout, {staticPlot: true, displayModeBar: false, responsive: false});
</script>
</body>
</html>
